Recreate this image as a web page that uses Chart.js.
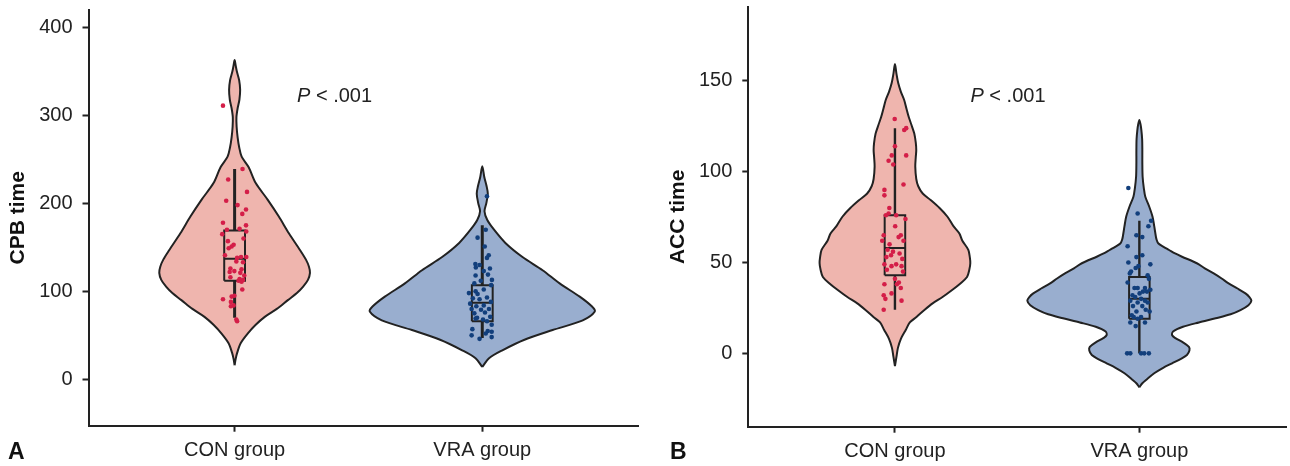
<!DOCTYPE html>
<html>
<head>
<meta charset="utf-8">
<script src="https://cdn.jsdelivr.net/npm/chart.js@4.4.0/dist/chart.umd.min.js"></script>
<style>
  body { margin: 0; background: #fff; width: 1290px; height: 466px; overflow: hidden; position: relative; }
  .panel { position: absolute; top: 0; width: 645px; height: 466px; }
  #panelA { left: 0; }
  #panelB { left: 645px; }
</style>
</head>
<body>
<div class="panel" id="panelA"><canvas id="chartA" width="645" height="466"></canvas></div>
<div class="panel" id="panelB"><canvas id="chartB" width="645" height="466"></canvas></div>
<script>
// ---- data ----
const groups = ['CON group', 'VRA group'];
const cpbTicks = [0, 100, 200, 300, 400];
const accTicks = [0, 50, 100, 150];

// violin outlines: value levels and relative density (half width)
const cpbConLevels = [16, 23, 30, 41, 52, 62, 71, 80, 90, 98, 105, 113, 121, 128, 136, 147, 166, 185, 204, 223, 241, 253, 264, 275, 287, 298, 308, 318, 329, 340, 350, 357, 363];
const cpbConDensity = [0, 1, 2.5, 6, 13, 21, 30, 42, 53, 62, 68, 73, 75, 74, 71, 65, 54, 44, 33, 21, 14, 7, 4.5, 3, 2, 1.8, 3, 4.8, 5.5, 4.5, 2.2, 1, 0];
const cpbVraLevels = [14, 24, 33, 45, 56, 67, 77, 83, 94, 109, 124, 139, 155, 170, 181, 191, 200, 211, 220, 230, 242];
const cpbVraDensity = [0, 6.7, 20, 42, 70, 100, 112, 109, 97, 77, 60, 40, 23, 11.7, 5, 2.2, 4, 5.5, 4.2, 2, 0];
const accConLevels = [-7, -2, 3, 8, 13, 17, 20, 24, 27.5, 31, 35, 38.5, 42, 46, 49.6, 53, 57, 62, 66, 70, 75.2, 80, 84.4, 88, 92, 96, 102.8, 108, 112, 116, 121, 126, 130, 135, 139.5, 144, 148.8, 154, 159.3];
const accConDensity = [0, 1.5, 3, 6, 11, 15, 21.7, 30, 38, 48, 58, 66, 72.7, 75, 76, 75.5, 74, 68, 65, 59, 53, 45, 36, 28, 23.5, 21.5, 20.5, 21, 21.5, 21, 19.5, 16.5, 14, 11.5, 9.3, 6, 3.3, 1.5, 0];
const accVraLevels = [-18.7, -16.5, -14.7, -11, -8, -5.5, -3, -0.9, 1.5, 3.5, 6, 8.5, 10, 12, 14.6, 17, 19.3, 21.5, 23.8, 26.5, 29, 31, 33, 35.7, 38.5, 41.2, 44, 46.8, 49.6, 53.2, 55, 56.9, 58.8, 60.6, 62.4, 64.2, 70, 75.2, 80.7, 86.2, 91, 97.2, 105, 112, 118, 123, 126, 128.5];
const accVraDensity = [0, 3, 6.7, 15, 24, 33, 42, 48, 50.5, 50, 44, 36, 33, 34, 44, 60, 77, 92, 102, 110, 113, 111, 107, 99, 90, 83, 75, 66, 58, 43, 36, 30, 24, 19, 17.5, 16.7, 15, 13.3, 10, 6, 4.5, 3.3, 3, 3, 2.8, 2, 1.2, 0];

// box stats: lower whisker, Q1, median, Q3, upper whisker
const cpbConBox = [70, 112, 137, 169, 239];
const cpbVraBox = [47, 66, 87, 107, 175];
const accConBox = [24, 43, 58, 76, 124];
const accVraBox = [0, 19, 30, 42, 73];

// individual patients + horizontal jitter (category units)
const cpbConValues = [311, 239, 227, 213, 203, 198, 193, 188, 178, 175, 171, 170, 168, 165, 160, 157, 153, 151, 149, 138, 139, 139, 141, 134, 133, 126, 123, 122, 125, 121, 118, 116, 114, 113, 111, 112, 102, 91, 94, 95, 88, 84, 83, 68, 66];
const cpbConJitter = [-0.047, 0.032, -0.026, 0.050, -0.034, 0.012, 0.046, 0.031, -0.047, 0.046, 0.020, -0.031, 0.047, -0.050, 0.036, -0.027, -0.004, -0.012, -0.024, 0.010, 0.026, 0.047, -0.039, 0.007, 0.034, -0.017, -0.001, -0.020, 0.028, 0.023, 0.039, -0.017, 0.020, 0.034, 0.028, 0.016, 0.031, -0.047, -0.012, -0.001, -0.015, -0.004, -0.015, 0.007, 0.010];
const cpbVraValues = [208, 170, 161, 151, 141, 138, 131, 130, 127, 126, 123, 118, 119, 113, 112, 109, 107, 100, 102, 98, 97, 92, 91, 93, 88, 86, 83, 84, 80, 79, 80, 75, 76, 71, 70, 68, 66, 57, 62, 55, 50, 54, 52, 46, 48, 69];
const cpbVraJitter = [0.019, 0.014, -0.019, 0.010, 0.026, 0.019, -0.028, -0.011, -0.026, 0.031, 0.006, -0.027, 0.023, 0.039, -0.006, -0.032, 0.036, -0.027, 0.006, -0.054, -0.019, -0.038, -0.011, 0.019, 0.035, -0.049, -0.024, 0.006, -0.043, -0.005, 0.027, -0.032, 0.011, 0.032, -0.021, 0.003, 0.019, -0.040, 0.038, 0.022, -0.043, 0.038, 0.014, -0.011, 0.038, -0.027];
const accConValues = [129, 123, 124, 114, 109, 106, 109, 104, 93, 90, 87, 80, 77, 76, 76, 74, 70, 65, 64, 65, 62, 62, 60, 57, 56, 54, 55, 53, 52, 49, 49, 48, 48, 46, 45, 41, 39, 38, 38, 36, 32, 30, 29, 24, 33];
const accConJitter = [-0.001, 0.038, 0.046, 0, -0.013, -0.026, 0.046, -0.007, 0.035, -0.043, -0.043, -0.023, -0.026, -0.037, 0.005, 0.043, 0.001, 0.024, 0.015, -0.046, -0.052, 0.035, -0.022, -0.030, -0.008, -0.016, 0.019, -0.035, 0.030, -0.043, 0.005, 0.027, -0.014, -0.033, 0.033, 0, 0.016, -0.043, 0.008, 0.024, -0.046, -0.039, 0.027, -0.046, -0.014];
const accVraValues = [91, 77, 73, 70, 65, 64, 59, 54, 53, 50, 49, 47, 48, 45, 44, 43, 41, 39, 36, 36, 36, 34, 35, 34, 33, 32, 31, 30, 29, 29, 28, 28, 26, 26, 23, 23, 24, 21, 20, 20, 19, 17, 17, 15, 0, 0, 0, 0, 0];
const accVraJitter = [-0.045, -0.007, 0.048, 0.037, -0.012, 0.012, -0.048, 0.012, -0.012, -0.045, 0.045, -0.015, -0.004, -0.034, -0.039, 0.034, 0.039, -0.048, -0.020, -0.007, 0.023, 0.031, 0.045, 0.015, 0.001, -0.028, -0.017, 0.007, 0.023, -0.037, -0.007, 0.034, -0.026, 0.012, 0.042, -0.012, 0.026, -0.031, -0.023, 0.007, -0.007, 0.023, -0.037, -0.015, -0.050, -0.037, 0.007, 0.020, 0.039];

// ---- style ----
const FONT = '"Liberation Sans", Arial, Helvetica, sans-serif';
const INK = '#222222';
const violinScale = 1 / 246.5;   // category units per density unit
const boxHalf = 0.042;
const PINK = '#efb5ae', BLUE = '#99aecf';
const RED_DOT = '#d41e48', BLUE_DOT = '#123f7c';

// fill the closed violin outline under its line
const violinFill = {
    id: 'violinFill',
    beforeDatasetDraw(chart, args) {
        const ds = chart.data.datasets[args.index];
        if (!ds.violinColor) return;
        const line = args.meta.dataset;
        const ctx = chart.ctx;
        line.updateControlPoints(chart.chartArea, 'x');
        ctx.save();
        ctx.beginPath();
        line.path(ctx);
        ctx.closePath();
        ctx.fillStyle = ds.violinColor;
        ctx.fill();
        ctx.restore();
    }
};

// P value and panel letter
const panelText = {
    id: 'panelText',
    afterDraw(chart, args, opts) {
        const { ctx, scales: { x, y } } = chart;
        ctx.save();
        ctx.fillStyle = INK;
        ctx.textBaseline = 'alphabetic';
        ctx.textAlign = 'left';
        const px = x.getPixelForValue(opts.pAt[0]);
        const py = y.getPixelForValue(opts.pAt[1]);
        ctx.font = 'italic 20px ' + FONT;
        ctx.fillText('P', px, py);
        const w = ctx.measureText('P').width;
        ctx.font = '20px ' + FONT;
        ctx.fillText(' < .001', px + w, py);
        ctx.fillStyle = '#111';
        ctx.font = 'bold 23px ' + FONT;
        ctx.fillText(opts.letter, opts.letterX, 458.5);
        ctx.restore();
    }
};

function violinPoints(center, levels, density) {
    const right = levels.map((v, i) => ({ x: center + density[i] * violinScale, y: v }));
    const left = levels.map((v, i) => ({ x: center - density[i] * violinScale, y: v })).reverse();
    return right.concat(left.slice(1));
}

function groupDatasets(center, g) {
    const [lo, q1, med, q3, hi] = g.box;
    const line = { showLine: true, pointRadius: 0, borderColor: INK, fill: false, tension: 0 };
    return [
        { ...line, data: violinPoints(center, g.levels, g.density), borderWidth: 2, tension: 0.3, violinColor: g.fill, order: 5 },
        { ...line, data: [{ x: center, y: lo }, { x: center, y: q1 }], borderWidth: g.whisker, order: 4 },
        { ...line, data: [{ x: center, y: q3 }, { x: center, y: hi }], borderWidth: g.whisker, order: 4 },
        { ...line, data: [
            { x: center - boxHalf, y: q1 }, { x: center + boxHalf, y: q1 }, { x: center + boxHalf, y: q3 },
            { x: center - boxHalf, y: q3 }, { x: center - boxHalf, y: q1 }], borderWidth: 2, order: 3 },
        { ...line, data: [{ x: center - boxHalf, y: med }, { x: center + boxHalf, y: med }], borderWidth: 2, order: 3 },
        { showLine: false, data: g.values.map((v, i) => ({ x: center + g.jitter[i], y: v })),
          pointRadius: 2.3, pointBackgroundColor: g.dot, pointBorderWidth: 0, order: 1 }
    ];
}

// keep the plot area where the layout padding puts it
function noScalePadding(s) {
    s.paddingTop = 0; s.paddingBottom = 0; s.paddingLeft = 0; s.paddingRight = 0;
}

function makePanel(canvasId, p) {
    const datasets = p.groups.flatMap((g, i) => groupDatasets(i + 1, g));
    new Chart(document.getElementById(canvasId), {
        type: 'scatter',
        data: { datasets },
        options: {
            responsive: false,
            animation: false,
            layout: { padding: p.padding },
            plugins: { legend: { display: false }, tooltip: { enabled: false }, panelText: p.text },
            scales: {
                x: {
                    type: 'linear', min: p.xRange[0], max: p.xRange[1],
                    afterBuildTicks: s => { s.ticks = groups.map((g, i) => ({ value: i + 1 })); },
                    afterFit: s => { s.height = p.xHeight; noScalePadding(s); },
                    grid: { drawOnChartArea: false, drawTicks: true, tickLength: 6, tickColor: INK, tickWidth: 2 },
                    border: { display: true, color: INK, width: 2 },
                    ticks: { color: INK, padding: 7, maxRotation: 0, autoSkip: false,
                             font: { family: FONT, size: 20 }, callback: v => groups[v - 1] }
                },
                y: {
                    min: p.yRange[0], max: p.yRange[1],
                    afterBuildTicks: s => { s.ticks = p.yTicks.map(v => ({ value: v })); },
                    afterFit: s => { s.width = p.yWidth; noScalePadding(s); },
                    grid: { drawOnChartArea: false, drawTicks: true, tickLength: 6, tickColor: INK, tickWidth: 2 },
                    border: { display: true, color: INK, width: 2 },
                    ticks: { color: INK, padding: 10, font: { family: FONT, size: 20 } },
                    title: { display: true, text: p.title, color: '#111', padding: { top: p.titlePad },
                             font: { family: FONT, size: 21, weight: 'bold' } }
                }
            }
        },
        plugins: [violinFill, panelText]
    });
}

makePanel('chartA', {
    groups: [
        { levels: cpbConLevels, density: cpbConDensity, box: cpbConBox, values: cpbConValues, jitter: cpbConJitter, fill: PINK, dot: RED_DOT, whisker: 3 },
        { levels: cpbVraLevels, density: cpbVraDensity, box: cpbVraBox, values: cpbVraValues, jitter: cpbVraJitter, fill: BLUE, dot: BLUE_DOT, whisker: 3 }
    ],
    xRange: [0.41, 2.63], yRange: [-52.7, 419.7], yTicks: cpbTicks,
    padding: { top: 10, right: 6.7, left: 0, bottom: 0 },
    xHeight: 40.3, yWidth: 88.5, title: 'CPB time', titlePad: 6,
    text: { pAt: [1.252, 314.8], letter: 'A', letterX: 8 }
});

makePanel('chartB', {
    groups: [
        { levels: accConLevels, density: accConDensity, box: accConBox, values: accConValues, jitter: accConJitter, fill: PINK, dot: RED_DOT, whisker: 2.4 },
        { levels: accVraLevels, density: accVraDensity, box: accVraBox, values: accVraValues, jitter: accVraJitter, fill: BLUE, dot: BLUE_DOT, whisker: 2.4 }
    ],
    xRange: [0.4, 2.6], yRange: [-40.4, 190.7], yTicks: accTicks,
    padding: { top: 7, right: 0, left: 0, bottom: 0 },
    xHeight: 39.3, yWidth: 103.3, title: 'ACC time', titlePad: 21,
    text: { pAt: [1.309, 138.2], letter: 'B', letterX: 25 }
});
</script>
</body>
</html>
